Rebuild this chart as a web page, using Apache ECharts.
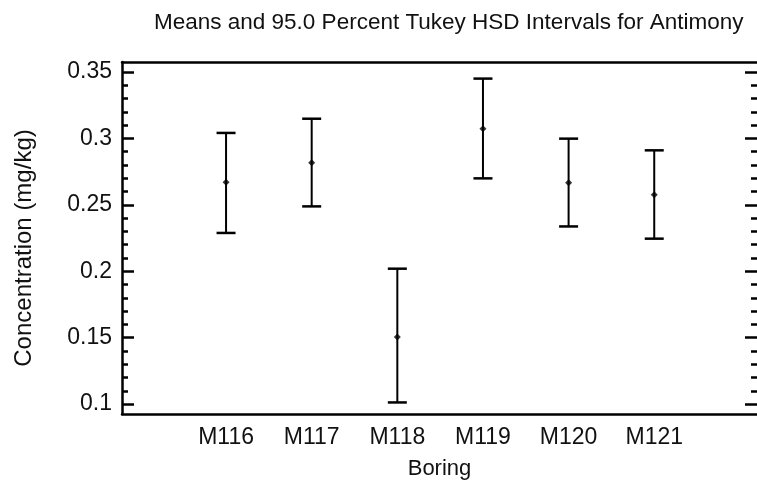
<!DOCTYPE html>
<html>
<head>
<meta charset="utf-8">
<script src="https://cdn.jsdelivr.net/npm/echarts@6/dist/echarts.min.js"></script>
<style>
  html, body { margin: 0; padding: 0; background: #fff; }
  #chart { width: 757px; height: 486px; }
</style>
</head>
<body>
<div id="chart"></div>
<script>
// ---- data ----
const categories = ['M116', 'M117', 'M118', 'M119', 'M120', 'M121'];
const means      = [0.2669, 0.2817, 0.1505, 0.3073, 0.2666, 0.2576];
const lower      = [0.2288, 0.2488, 0.1012, 0.2699, 0.2337, 0.2245];
const upper      = [0.3041, 0.3148, 0.2019, 0.3450, 0.2998, 0.2910];
const yMajorTicks = [0.1, 0.15, 0.2, 0.25, 0.3, 0.35];
const yMinorTicks = [0.11, 0.12, 0.13, 0.14, 0.16, 0.17, 0.18, 0.19,
                     0.21, 0.22, 0.23, 0.24, 0.26, 0.27, 0.28, 0.29,
                     0.31, 0.32, 0.33, 0.34];
const titleText = 'Means and 95.0 Percent Tukey HSD Intervals for Antimony';
const xTitle = 'Boring';
const yTitle = 'Concentration (mg/kg)';

// ---- chart ----
const FONT = '"Liberation Sans", Arial, Helvetica, sans-serif';
const INK = '#000';
const TXT = '#111';
const Y_MIN = 0.0925, Y_MAX = 0.3575;
const X_MIN = -1.215, X_MAX = 6.2;
const xPositions = categories.map((_, i) => i);

const chart = echarts.init(document.getElementById('chart'), null, { renderer: 'canvas' });

function yAxisBase(extra) {
  return Object.assign({
    type: 'value', min: Y_MIN, max: Y_MAX, gridIndex: 0,
    splitLine: { show: false },
    axisLine: { show: false, onZero: false },
    axisLabel: { show: false },
    axisTick: { show: false }
  }, extra);
}

const option = {
  animation: false,
  backgroundColor: '#fff',
  title: {
    text: titleText,
    left: 149, top: 6,
    textStyle: { fontFamily: FONT, fontSize: 22.5, fontWeight: 'normal', color: TXT }
  },
  grid: { left: 122, right: 0, top: 62, bottom: 72, containLabel: false },
  xAxis: [
    {
      type: 'value', min: X_MIN, max: X_MAX, position: 'bottom',
      name: xTitle, nameLocation: 'middle', nameGap: 44,
      nameTextStyle: { fontFamily: FONT, fontSize: 22, color: TXT },
      splitLine: { show: false },
      axisLine: { show: true, onZero: false, lineStyle: { color: INK, width: 2.5 } },
      axisTick: { show: false },
      axisLabel: {
        show: true, customValues: xPositions, margin: 12,
        fontFamily: FONT, fontSize: 23, color: TXT,
        formatter: v => categories[Math.round(v)]
      }
    },
    {
      type: 'value', min: X_MIN, max: X_MAX, position: 'top',
      splitLine: { show: false },
      axisLine: { show: true, onZero: false, lineStyle: { color: INK, width: 2.5 } },
      axisTick: { show: false },
      axisLabel: { show: false }
    }
  ],
  yAxis: [
    yAxisBase({
      position: 'left',
      name: yTitle, nameLocation: 'middle', nameGap: 86, nameRotate: 90,
      nameTextStyle: { fontFamily: FONT, fontSize: 24, color: TXT, padding: [0, 20, 0, 0] },
      axisLine: { show: true, onZero: false, lineStyle: { color: INK, width: 2.5 } },
      axisTick: { show: true, inside: true, length: 12, customValues: yMajorTicks,
                  lineStyle: { color: INK, width: 2.5 } },
      axisLabel: { show: true, customValues: yMajorTicks, margin: 10,
                   fontFamily: FONT, fontSize: 23, color: TXT,
                   formatter: v => String(+v.toFixed(2)) }
    }),
    yAxisBase({
      position: 'left',
      axisTick: { show: true, inside: true, length: 6, customValues: yMinorTicks,
                  lineStyle: { color: INK, width: 2.5 } }
    }),
    yAxisBase({
      position: 'right',
      axisTick: { show: true, inside: true, length: 12, customValues: yMajorTicks,
                  lineStyle: { color: INK, width: 2.5 } }
    }),
    yAxisBase({
      position: 'right',
      axisTick: { show: true, inside: true, length: 6, customValues: yMinorTicks,
                  lineStyle: { color: INK, width: 2.5 } }
    })
  ],
  series: [
    {
      type: 'custom',
      xAxisIndex: 0, yAxisIndex: 0,
      data: categories.map((c, i) => [i, lower[i], upper[i]]),
      renderItem: function (params, api) {
        const x = api.value(0);
        const pLo = api.coord([x, api.value(1)]);
        const pHi = api.coord([x, api.value(2)]);
        const half = 9.5;
        const st = { stroke: INK, lineWidth: 2 };
        const cap = { stroke: INK, lineWidth: 2.5 };
        return {
          type: 'group',
          children: [
            { type: 'line', shape: { x1: pHi[0], y1: pHi[1], x2: pLo[0], y2: pLo[1] }, style: st },
            { type: 'line', shape: { x1: pHi[0] - half, y1: pHi[1], x2: pHi[0] + half, y2: pHi[1] }, style: cap },
            { type: 'line', shape: { x1: pLo[0] - half, y1: pLo[1], x2: pLo[0] + half, y2: pLo[1] }, style: cap }
          ]
        };
      },
      z: 2
    },
    {
      type: 'scatter',
      xAxisIndex: 0, yAxisIndex: 0,
      data: means.map((m, i) => [i, m]),
      symbol: 'diamond', symbolSize: 7,
      itemStyle: { color: INK },
      z: 3
    }
  ]
};

chart.setOption(option);
</script>
</body>
</html>
